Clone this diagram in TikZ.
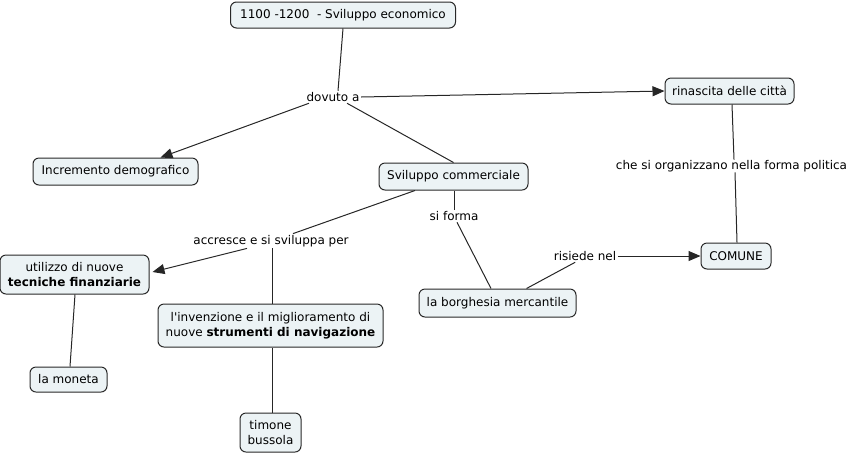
\documentclass[tikz,border=0pt]{standalone}
\usepackage{fontspec}
\setmainfont{DejaVu Sans}
\usetikzlibrary{arrows.meta,calc}
\definecolor{boxfill}{RGB}{236,243,245}
\definecolor{boxline}{RGB}{40,40,40}
\newdimen\pxu \pxu=0.75pt
\begin{document}
\begin{tikzpicture}[x=0.75pt,y=-0.75pt,
  concept/.style={draw=boxline,fill=boxfill,line width=0.75pt,rounded corners=4.5pt,
    inner sep=0pt,align=center,font=\fontsize{9}{11.5}\selectfont},
  linkl/.style={inner sep=1pt,font=\fontsize{9}{11.5}\selectfont},
  conn/.style={line width=0.75pt,draw=black!85},
  arr/.style={conn,-{Triangle[length=9pt,width=7.5pt]}}]
\useasboundingbox (0,0) rectangle (855,455);
% concepts
\node[concept,minimum width=225\pxu,minimum height=26\pxu] (top) at (343,15) {1100 -1200\ \ - Sviluppo economico};
\node[concept,minimum width=129\pxu,minimum height=26\pxu] (rin) at (729.5,91) {rinascita delle città};
\node[concept,minimum width=165\pxu,minimum height=27\pxu] (inc) at (115.5,171.5) {Incremento demografico};
\node[concept,minimum width=149\pxu,minimum height=27\pxu] (sc) at (453.5,176.5) {Sviluppo commerciale};
\node[concept,minimum width=149\pxu,minimum height=39\pxu] (ut) at (74.5,274.5) {utilizzo di nuove\\\textbf{tecniche finanziarie}};
\node[concept,minimum width=225\pxu,minimum height=43\pxu] (inv) at (270.5,325.5) {l\textquotesingle invenzione e il miglioramento di\\nuove \textbf{strumenti di navigazione}};
\node[concept,minimum width=157\pxu,minimum height=28\pxu] (bor) at (497.5,303) {la borghesia mercantile};
\node[concept,minimum width=70\pxu,minimum height=26\pxu] (com) at (736,256) {COMUNE};
\node[concept,minimum width=77\pxu,minimum height=25\pxu] (mon) at (68.5,379.5) {la moneta};
\node[concept,minimum width=61\pxu,minimum height=39\pxu] (tim) at (270.5,432.5) {timone\\bussola};
% linking phrases
\node[linkl] (dov) at (333,97) {dovuto a};
\node[linkl] (acc) at (271,241) {accresce e si sviluppa per};
\node[linkl] (sif) at (454,216) {si forma};
\node[linkl] (ris) at (585,256) {risiede nel};
\node[linkl] (che) at (731.5,166) {che si organizzano nella forma politica};
% connectors
\draw[conn] (top.south) -- ($(dov.north)+(5,0)$);
\draw[arr] ($(dov.south west)+(4,0)$) -- ($(inc.north)+(45,0)$);
\draw[arr] (dov.east) -- (rin.west);
\draw[conn] ($(dov.south)+(14,0)$) -- (sc.north);
\draw[conn] ($(sc.south)+(-38.5,0)$) -- ($(acc.north)+(22,0)$);
\draw[arr] ($(acc.south)+(-24,0)$) -- ($(ut.east)+(3,-2.5)$);
\draw[conn] ($(acc.south)+(1,0)$) -- ($(inv.north)+(1.5,0)$);
\draw[conn] ($(sc.south)+(0.5,0)$) -- ($(sif.north)+(0,0)$);
\draw[conn] ($(sif.south)+(3,0)$) -- ($(bor.north)+(-6.5,0)$);
\draw[conn] ($(bor.north)+(29,0)$) -- ($(ris.south west)+(23,0)$);
\draw[arr] (ris.east) -- (com.west);
\draw[conn] ($(rin.south)+(2.5,0)$) -- ($(che.north)+(2.5,1)$);
\draw[conn] ($(che.south)+(3.5,-1)$) -- ($(com.north)+(1,0)$);
\draw[conn] ($(ut.south)+(0.5,0)$) -- ($(mon.north)+(1.5,0)$);
\draw[conn] ($(inv.south)+(1.5,0)$) -- ($(tim.north)+(1.5,0)$);
\end{tikzpicture}
\end{document}
